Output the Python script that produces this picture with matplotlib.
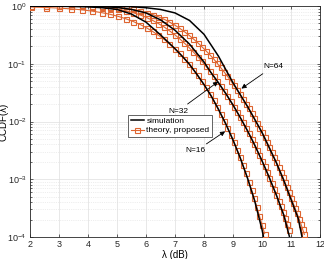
import numpy as np
import matplotlib.pyplot as plt

plt.rcParams['font.family'] = ['Liberation Sans', 'DejaVu Sans']
plt.rcParams['mathtext.default'] = 'regular'

# theory marker positions (dB)
theory_db = [2.04, 2.55, 3.01, 3.42, 3.80, 4.15, 4.47, 4.77, 5.05, 5.31, 5.56, 5.80,
             6.02, 6.23, 6.43, 6.63, 6.81, 6.99, 7.16, 7.32, 7.48, 7.63, 7.78, 7.92,
             8.06, 8.20, 8.33, 8.45, 8.57, 8.69, 8.81, 8.92, 9.03, 9.14, 9.24, 9.34,
             9.44, 9.54, 9.64, 9.73, 9.82, 9.91, 10.00, 10.09, 10.17, 10.25, 10.33,
             10.41, 10.49, 10.57, 10.64, 10.72, 10.79, 10.86, 10.93, 11.00, 11.07,
             11.14, 11.21, 11.27, 11.34, 11.40, 11.46]

# log10 CCDF, theory
theory_16 = [-0.018, -0.026, -0.036, -0.050, -0.067, -0.089, -0.115, -0.145, -0.181,
             -0.222, -0.269, -0.321, -0.378, -0.441, -0.508, -0.580, -0.656, -0.737,
             -0.822, -0.911, -1.004, -1.100, -1.200, -1.303, -1.409, -1.518, -1.630,
             -1.746, -1.863, -1.984, -2.106, -2.230, -2.358, -2.490, -2.623, -2.760,
             -2.898, -3.040, -3.183, -3.330, -3.479, -3.630, -3.784, -3.941]
theory_32 = [0.000, -0.0003, -0.0009, -0.0024, -0.0056, -0.012, -0.022, -0.036, -0.057,
             -0.083, -0.116, -0.155, -0.200, -0.250, -0.305, -0.365, -0.430, -0.497,
             -0.568, -0.641, -0.717, -0.795, -0.875, -0.956, -1.039, -1.124, -1.209,
             -1.296, -1.383, -1.471, -1.560, -1.650, -1.741, -1.832, -1.924, -2.016,
             -2.109, -2.203, -2.297, -2.392, -2.487, -2.583, -2.679, -2.776, -2.873,
             -2.971, -3.070, -3.169, -3.268, -3.368, -3.468, -3.569, -3.671, -3.772,
             -3.875]
theory_64 = [0.000, -0.0001, -0.0003, -0.0008, -0.0019, -0.0043, -0.0086, -0.016, -0.026,
             -0.041, -0.060, -0.084, -0.114, -0.148, -0.187, -0.231, -0.279, -0.330,
             -0.385, -0.444, -0.505, -0.569, -0.634, -0.702, -0.772, -0.843, -0.915,
             -0.989, -1.064, -1.140, -1.216, -1.294, -1.372, -1.452, -1.531, -1.612,
             -1.692, -1.774, -1.856, -1.938, -2.021, -2.104, -2.188, -2.272, -2.357,
             -2.442, -2.528, -2.614, -2.701, -2.788, -2.875, -2.963, -3.052, -3.140,
             -3.229, -3.318, -3.408, -3.498, -3.589, -3.680, -3.771, -3.863, -3.955]

# simulation curves (dB, log10 CCDF)
sim_db_16 = [2.0, 3.0, 4.0, 4.5, 5.0, 5.5, 6.0, 6.5, 7.0, 7.25, 7.5, 7.75, 8.0, 8.25,
             8.5, 8.75, 9.0, 9.25, 9.5, 9.75, 10.0, 10.05]
sim_16 = [-0.001, -0.004, -0.015, -0.03, -0.06, -0.14, -0.28, -0.50, -0.74, -0.87, -1.01,
          -1.18, -1.36, -1.56, -1.79, -2.04, -2.32, -2.63, -2.98, -3.38, -3.87, -4.0]
sim_db_32 = [2.0, 3.0, 4.0, 4.5, 5.0, 5.5, 6.0, 6.5, 7.0, 7.5, 8.0, 8.25, 8.5, 8.75,
             9.0, 9.25, 9.5, 9.75, 10.0, 10.25, 10.5, 10.75, 10.95]
sim_32 = [0.0, -0.001, -0.004, -0.01, -0.025, -0.06, -0.12, -0.24, -0.42, -0.66, -0.97,
          -1.16, -1.33, -1.515, -1.714, -1.93, -2.16, -2.41, -2.68, -2.97, -3.28, -3.62, -4.0]
sim_db_64 = [2.0, 4.0, 5.0, 5.5, 6.0, 6.5, 7.0, 7.5, 8.0, 8.5, 9.0, 9.5, 10.0, 10.5,
             10.75, 11.0, 11.25, 11.38]
sim_64 = [0.0, -0.001, -0.005, -0.012, -0.03, -0.06, -0.12, -0.25, -0.49, -0.87, -1.33,
          -1.74, -2.19, -2.72, -3.02, -3.35, -3.68, -4.0]

orange = '#DE6530'

fig = plt.figure(figsize=(3.24, 2.59), dpi=100)
ax = fig.add_axes([30 / 324, 22 / 259, 290 / 324, 231 / 259])

for vals in [theory_16, theory_32, theory_64]:
    ax.plot(theory_db[:len(vals)], 10 ** np.array(vals), color=orange, lw=0.8,
            marker='s', ms=3.6, mfc='none', mew=0.8, zorder=3)

for xs, vals in [(sim_db_16, sim_16), (sim_db_32, sim_32), (sim_db_64, sim_64)]:
    ax.plot(xs, 10 ** np.array(vals), color='black', lw=1.1, zorder=4)

ax.set_yscale('log')
ax.set_xlim(2, 12)
ax.set_ylim(1e-4, 1)
ax.set_xticks(range(2, 13))
ax.set_yticks([1e-4, 1e-3, 1e-2, 1e-1, 1])

ax.grid(True, which='major', color='#dedede', lw=0.5)
ax.grid(True, which='minor', axis='y', color='#dedede', ls=':', lw=0.5)
ax.set_axisbelow(True)

ax.tick_params(which='both', direction='in', top=True, right=True, labelsize=6.5,
               width=0.5, colors='#262626', pad=2.5)
ax.tick_params(which='major', length=2.5)
ax.tick_params(which='minor', length=1.5)
for s in ax.spines.values():
    s.set_linewidth(0.6)
    s.set_color('#262626')

ax.set_xlabel('λ (dB)', fontsize=7, labelpad=0.5)
ax.set_ylabel('CCDF(λ)', fontsize=7)
ax.yaxis.set_label_coords(-0.073, 0.5)

arrow = dict(arrowstyle='-|>', color='black', lw=0.6, mutation_scale=7,
             shrinkA=1, shrinkB=0)
ax.annotate('N=64', xy=(9.29, 10 ** -1.43), xytext=(10.38, 10 ** -1.05),
            fontsize=6, ha='center', va='center', arrowprops=arrow)
ax.annotate('N=32', xy=(8.49, 10 ** -1.31), xytext=(7.10, 10 ** -1.82),
            fontsize=6, ha='center', va='center', arrowprops=arrow)
ax.annotate('N=16', xy=(8.73, 10 ** -2.17), xytext=(7.72, 10 ** -2.51),
            fontsize=6, ha='center', va='center', arrowprops=arrow)

h_sim, = ax.plot([], [], color='black', lw=1.1)
h_th, = ax.plot([], [], color=orange, lw=0.8, marker='s', ms=3.6, mfc='none', mew=0.8)
leg = ax.legend([h_sim, h_th], ['simulation', 'theory, proposed'], loc='lower left',
                bbox_to_anchor=(0.338, 0.433), borderaxespad=0, fontsize=6,
                fancybox=False, framealpha=1, edgecolor='#262626',
                handlelength=1.6, handletextpad=0.3, borderpad=0.3, labelspacing=0.2)
leg.get_frame().set_linewidth(0.5)

fig.savefig('out.png', dpi=100)
